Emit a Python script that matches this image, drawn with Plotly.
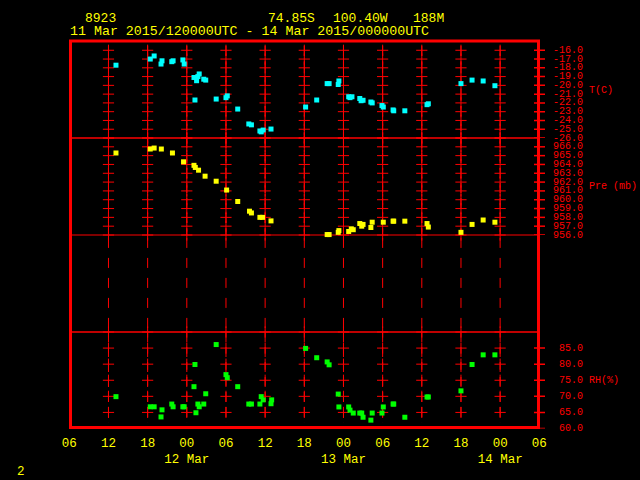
import plotly.graph_objects as go

# ---------------- data ----------------
t_times = ["2015-03-11 13:09", "2015-03-11 18:24", "2015-03-11 19:00", "2015-03-11 20:03", "2015-03-11 20:12",
           "2015-03-11 21:42", "2015-03-11 21:54", "2015-03-11 23:24", "2015-03-11 23:36", "2015-03-12 01:06",
           "2015-03-12 01:15", "2015-03-12 01:30", "2015-03-12 01:42", "2015-03-12 01:54", "2015-03-12 02:36",
           "2015-03-12 02:54", "2015-03-12 04:30", "2015-03-12 06:00", "2015-03-12 06:12", "2015-03-12 07:48",
           "2015-03-12 09:30", "2015-03-12 09:54", "2015-03-12 11:12", "2015-03-12 11:24", "2015-03-12 11:42",
           "2015-03-12 12:54", "2015-03-12 18:12", "2015-03-12 19:54", "2015-03-12 21:30", "2015-03-12 21:48",
           "2015-03-12 23:12", "2015-03-12 23:18", "2015-03-13 00:48", "2015-03-13 01:00", "2015-03-13 01:18",
           "2015-03-13 02:30", "2015-03-13 02:42", "2015-03-13 03:00", "2015-03-13 04:12", "2015-03-13 04:24",
           "2015-03-13 05:54", "2015-03-13 06:06", "2015-03-13 07:36", "2015-03-13 07:42", "2015-03-13 09:24",
           "2015-03-13 12:48", "2015-03-13 13:00", "2015-03-13 18:00", "2015-03-13 19:42", "2015-03-13 21:24",
           "2015-03-13 23:12"]
t_vals = [-17.7, -17.0, -16.65, -17.57, -17.2,
          -17.3, -17.2, -17.1, -17.57, -19.1,
          -21.67, -19.47, -19.0, -18.7, -19.3,
          -19.4, -21.56, -21.4, -21.2, -22.7,
          -24.4, -24.5, -25.2, -25.3, -25.1,
          -24.98, -22.47, -21.67, -19.8, -19.8,
          -19.9, -19.5, -21.3, -21.4, -21.3,
          -21.5, -21.75, -21.7, -21.9, -22.0,
          -22.3, -22.47, -22.8, -22.9, -22.9,
          -22.2, -22.1, -19.8, -19.4, -19.5,
          -20.04]

p_times = ["2015-03-11 13:09", "2015-03-11 18:24", "2015-03-11 19:00", "2015-03-11 20:06", "2015-03-11 21:48",
           "2015-03-11 23:30", "2015-03-12 01:06", "2015-03-12 01:18", "2015-03-12 01:48", "2015-03-12 02:48",
           "2015-03-12 04:30", "2015-03-12 06:06", "2015-03-12 07:48", "2015-03-12 09:36", "2015-03-12 09:54",
           "2015-03-12 11:12", "2015-03-12 11:36", "2015-03-12 12:54", "2015-03-12 18:12", "2015-03-12 19:54",
           "2015-03-12 21:30", "2015-03-12 21:48", "2015-03-12 23:12", "2015-03-12 23:18", "2015-03-13 00:48",
           "2015-03-13 01:12", "2015-03-13 01:30", "2015-03-13 02:30", "2015-03-13 02:48", "2015-03-13 03:00",
           "2015-03-13 04:12", "2015-03-13 04:24", "2015-03-13 06:06", "2015-03-13 07:36", "2015-03-13 07:42",
           "2015-03-13 09:24", "2015-03-13 12:48", "2015-03-13 13:00", "2015-03-13 18:00", "2015-03-13 19:42",
           "2015-03-13 21:24", "2015-03-13 23:12"]
p_vals = [965.3, 965.75, 965.86, 965.75, 965.3,
          964.3, 963.9, 963.66, 963.35, 962.67,
          962.1, 961.1, 959.8, 958.7, 958.5,
          958.0, 958.0, 957.6, 955.95, 955.95,
          956.05, 956.05, 956.3, 956.5, 956.4,
          956.7, 956.6, 957.3, 957.0, 957.2,
          956.85, 957.45, 957.45, 957.57, 957.57,
          957.57, 957.3, 956.9, 956.3, 957.2,
          957.7, 957.45]

rh_times = ["2015-03-11 13:09", "2015-03-11 18:24", "2015-03-11 19:00", "2015-03-11 20:03", "2015-03-11 20:12",
            "2015-03-11 21:42", "2015-03-11 21:54", "2015-03-11 23:24", "2015-03-11 23:36", "2015-03-12 01:06",
            "2015-03-12 01:15", "2015-03-12 01:24", "2015-03-12 01:42", "2015-03-12 01:54", "2015-03-12 02:36",
            "2015-03-12 02:54", "2015-03-12 04:30", "2015-03-12 06:00", "2015-03-12 06:12", "2015-03-12 07:48",
            "2015-03-12 09:30", "2015-03-12 09:54", "2015-03-12 11:12", "2015-03-12 11:24", "2015-03-12 11:42",
            "2015-03-12 12:54", "2015-03-12 13:00", "2015-03-12 18:12", "2015-03-12 19:54", "2015-03-12 21:30",
            "2015-03-12 21:48", "2015-03-12 23:12", "2015-03-12 23:18", "2015-03-13 00:48", "2015-03-13 01:00",
            "2015-03-13 01:30", "2015-03-13 02:30", "2015-03-13 02:48", "2015-03-13 03:00", "2015-03-13 04:12",
            "2015-03-13 04:24", "2015-03-13 05:54", "2015-03-13 06:06", "2015-03-13 07:36", "2015-03-13 07:42",
            "2015-03-13 09:24", "2015-03-13 12:48", "2015-03-13 13:00", "2015-03-13 18:00", "2015-03-13 19:42",
            "2015-03-13 21:24", "2015-03-13 23:12"]
rh_vals = [69.9, 66.75, 66.75, 63.6, 65.8,
           67.6, 66.75, 66.75, 66.75, 73.0,
           79.9, 64.9, 67.6, 66.75, 67.6,
           70.8, 86.1, 76.75, 75.8, 73.0,
           67.6, 67.6, 67.6, 69.9, 68.9,
           67.7, 68.9, 84.9, 82.0, 80.7,
           79.8, 70.7, 66.7, 66.7, 65.7,
           64.8, 64.8, 64.8, 63.5, 62.6,
           64.8, 64.8, 66.7, 67.6, 67.6,
           63.5, 69.8, 69.8, 71.7, 79.9,
           82.9, 82.9]

x_tickvals = ["2015-03-11 06:00", "2015-03-11 12:00", "2015-03-11 18:00", "2015-03-12 00:00",
              "2015-03-12 06:00", "2015-03-12 12:00", "2015-03-12 18:00", "2015-03-13 00:00",
              "2015-03-13 06:00", "2015-03-13 12:00", "2015-03-13 18:00", "2015-03-14 00:00",
              "2015-03-14 06:00"]
x_ticktext = ["06", "12", "18", "00<br>12 Mar", "06", "12", "18", "00<br>13 Mar",
              "06", "12", "18", "00<br>14 Mar", "06"]

t_ticks = [-16, -17, -18, -19, -20, -21, -22, -23, -24, -25, -26]
p_ticks = [966, 965, 964, 963, 962, 961, 960, 959, 958, 957, 956]
rh_ticks = [85, 80, 75, 70, 65, 60]

header_line1 = [("8923", 84.5), ("74.85S", 268), ("100.40W", 333), ("188M", 413)]
header_line2 = "11 Mar 2015/120000UTC - 14 Mar 2015/000000UTC"

# ---------------- style ----------------
RED = "#FF0000"
YEL = "#FFFF00"
CYAN = "#00FFFF"
GREEN = "#00FF00"
FONT = "Liberation Mono"
W, H = 640, 480


def px(x):
    return x / W


def py(y):
    return 1 - y / H


X0, X1 = 69.3, 539.3
panels = {
    "T": dict(top=41.5, bot=138.0, rng=[-26, -15]),
    "P": dict(top=138.0, bot=235.0, rng=[956, 967]),
    "E": dict(top=235.0, bot=332.0, rng=[0, 1]),
    "R": dict(top=332.0, bot=428.5, rng=[60, 90]),
}

fig = go.Figure()

grid_times = x_tickvals[1:-1]


def grid(yaxis, lo, hi, cross_vals, dash):
    xs, ys = [], []
    for t in grid_times:
        xs += [t, t, None]
        ys += [hi, lo, None]
    fig.add_trace(go.Scatter(x=xs, y=ys, yaxis=yaxis, mode="lines",
                             line=dict(color=RED, width=1, dash=dash),
                             hoverinfo="skip", cliponaxis=False))
    if cross_vals:
        cx, cy = [], []
        for t in grid_times:
            for v in cross_vals:
                cx.append(t)
                cy.append(v)
        fig.add_trace(go.Scatter(x=cx, y=cy, yaxis=yaxis, mode="markers",
                                 marker=dict(symbol="cross-thin", size=8,
                                             line=dict(color=RED, width=1)),
                                 hoverinfo="skip", cliponaxis=False))


grid("y", -26, -15.5, t_ticks, "10px,5px")
grid("y2", 956, 967, p_ticks + [967], "10px,5px")
grid("y4", 0.03, 0.97, [], "10px,10px")
grid("y3", 62, 90, rh_ticks[:-1] + [90], "10px,5px")

# data
fig.add_trace(go.Scatter(x=t_times, y=t_vals, yaxis="y", mode="markers",
                         marker=dict(symbol="square", size=5, color=CYAN, line=dict(width=0)),
                         cliponaxis=False))
fig.add_trace(go.Scatter(x=p_times, y=p_vals, yaxis="y2", mode="markers",
                         marker=dict(symbol="square", size=5, color=YEL, line=dict(width=0)),
                         cliponaxis=False))
fig.add_trace(go.Scatter(x=rh_times, y=rh_vals, yaxis="y3", mode="markers",
                         marker=dict(symbol="square", size=5, color=GREEN, line=dict(width=0)),
                         cliponaxis=False))

shapes = []


def pline(x0, y0, x1, y1, w):
    shapes.append(dict(type="line", xref="paper", yref="paper", layer="below",
                       x0=px(x0), y0=py(y0), x1=px(x1), y1=py(y1),
                       line=dict(color=RED, width=w)))


# frame
pline(69, 41, 540, 41, 3)
pline(70.5, 40, 70.5, 429, 3)
pline(538.5, 40, 538.5, 429, 3)
pline(69, 427.5, 540, 427.5, 3)
pline(70, 138, 540, 138, 1.5)
pline(70, 235, 540, 235, 1)
pline(70, 332, 540, 332, 1.5)

annotations = []
for yref, ticks in (("y", t_ticks), ("y2", p_ticks), ("y3", rh_ticks)):
    for v in ticks:
        shapes.append(dict(type="line", xref="paper", yref=yref, layer="below",
                           x0=px(534), x1=px(545), y0=v, y1=v,
                           line=dict(color=RED, width=1.5)))
        annotations.append(dict(xref="paper", yref=yref, x=px(584), y=v,
                                text=f"{v:.1f}", showarrow=False,
                                xanchor="right", yanchor="middle", borderpad=0,
                                font=dict(family=FONT, size=10, color=RED)))

for txt, yy in (("T(C)", 90), ("Pre (mb)", 186.7), ("RH(%)", 380.7)):
    annotations.append(dict(xref="paper", yref="paper", x=px(587.5), y=py(yy),
                            text=txt, showarrow=False, xanchor="left", yanchor="middle",
                            borderpad=0, font=dict(family=FONT, size=10, color=RED)))

for txt, xx in header_line1:
    annotations.append(dict(xref="paper", yref="paper", x=px(xx - 2), y=py(18.5),
                            text=txt, showarrow=False, xanchor="left", yanchor="middle",
                            font=dict(family=FONT, size=13, color=YEL)))
annotations.append(dict(xref="paper", yref="paper", x=px(68), y=py(32),
                        text=header_line2, showarrow=False, xanchor="left", yanchor="middle",
                        font=dict(family=FONT, size=13.3, color=YEL)))
annotations.append(dict(xref="paper", yref="paper", x=px(15), y=py(472),
                        text="2", showarrow=False, xanchor="left", yanchor="middle",
                        font=dict(family=FONT, size=12.5, color=YEL)))


def ydom(p):
    return [py(panels[p]["bot"]), py(panels[p]["top"])]


hidden = dict(visible=False, showgrid=False, zeroline=False, fixedrange=True)

fig.update_layout(
    width=W, height=H, margin=dict(l=0, r=0, t=0, b=0, autoexpand=False),
    paper_bgcolor="black", plot_bgcolor="rgba(0,0,0,0)", showlegend=False,
    xaxis=dict(domain=[px(X0), px(X1)], type="date", automargin=False,
               range=[x_tickvals[0], x_tickvals[-1]], anchor="y3",
               tickvals=x_tickvals, ticktext=x_ticktext, ticks="",
               ticklabelstandoff=5,
               tickfont=dict(family=FONT, size=12.5, color=YEL),
               showgrid=False, zeroline=False, showline=False),
    yaxis=dict(domain=ydom("T"), range=panels["T"]["rng"], anchor="x", **hidden),
    yaxis2=dict(domain=ydom("P"), range=panels["P"]["rng"], anchor="x", **hidden),
    yaxis3=dict(domain=ydom("R"), range=panels["R"]["rng"], anchor="x", **hidden),
    yaxis4=dict(domain=ydom("E"), range=panels["E"]["rng"], anchor="x", **hidden),
    shapes=shapes, annotations=annotations,
)

fig.write_html("out.html", config={"responsive": False, "displayModeBar": False},
               post_script="document.body.style.margin='0';document.body.style.overflow='hidden';")
